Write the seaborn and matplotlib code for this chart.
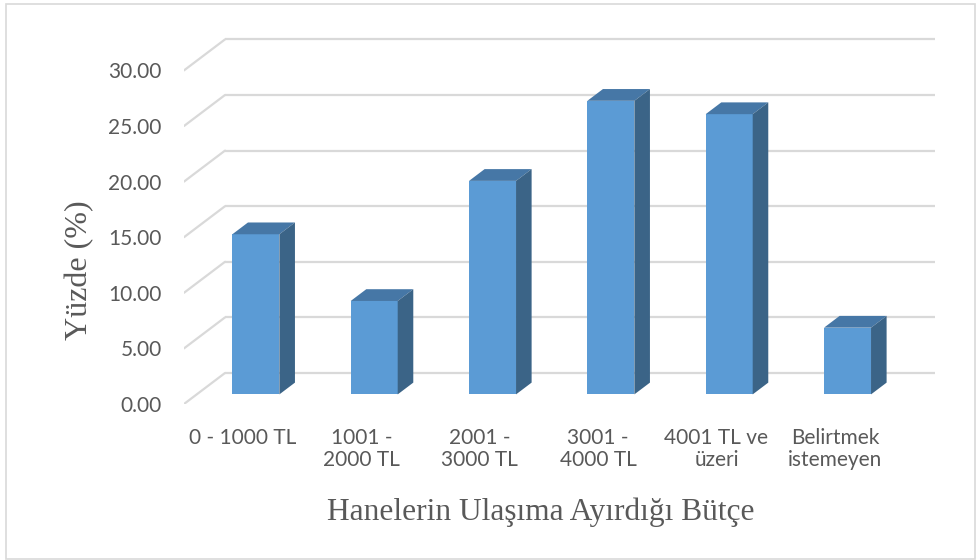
import matplotlib
matplotlib.use("Agg")
import matplotlib.pyplot as plt
from matplotlib.patches import Polygon, Rectangle
import pandas as pd
import seaborn as sns

# Data
categories = ["0 - 1000 TL", "1001 -\n2000 TL", "2001 -\n3000 TL",
              "3001 -\n4000 TL", "4001 TL ve\nüzeri", "Belirtmek\nistemeyen"]
values = [14.4, 8.4, 19.2, 26.4, 25.2, 6.0]
y_ticks = [0, 5, 10, 15, 20, 25, 30]
y_tick_labels = [f"{v:.2f}" for v in y_ticks]
x_title = "Hanelerin Ulaşıma Ayırdığı Bütçe"
y_title = "Yüzde (%)"

sns.set_theme(style="white")
plt.rcParams["font.family"] = ["Lato", "DejaVu Sans"]

W, H = 980, 560
fig = plt.figure(figsize=(W / 100, H / 100), dpi=100)

# Oblique projection (pixels): full depth of the floor, bar depth slab
DEPTH_PX = (41.0, 31.0)
BAR_FRONT, BAR_BACK = 0.31, 0.69
X_UNIT = 118.33  # px per category
Y_UNIT = 11.12   # px per percent
FRONT_LEFT_PX = 184.0
FRONT_ZERO_PX = 404.0

# Axes box in pixels; data plane = bars' front faces
ax_l, ax_r, ax_t, ax_b = FRONT_LEFT_PX, 955.0, 20.0, FRONT_ZERO_PX
ax = fig.add_axes([ax_l / W, 1 - ax_b / H, (ax_r - ax_l) / W, (ax_b - ax_t) / H])

plane_left = FRONT_LEFT_PX + BAR_FRONT * DEPTH_PX[0]
plane_zero = FRONT_ZERO_PX - BAR_FRONT * DEPTH_PX[1]
def to_x(px):
    return (px - plane_left) / X_UNIT - 0.5
def to_y(py):
    return (plane_zero - py) / Y_UNIT

ddx = DEPTH_PX[0] / X_UNIT
ddy = DEPTH_PX[1] / Y_UNIT

grid_c = "#D9D9D9"
n = len(categories)
# Back wall gridlines with their diagonal side-wall segments
for v in y_ticks:
    bx0 = -0.5 + (1 - BAR_FRONT) * ddx
    by = v + (1 - BAR_FRONT) * ddy
    ax.plot([bx0, n - 0.5 + (1 - BAR_FRONT) * ddx], [by, by],
            color=grid_c, lw=1.6, zorder=0, solid_capstyle="butt")
    fx = -0.5 - BAR_FRONT * ddx
    fy = v - BAR_FRONT * ddy
    ax.plot([fx, bx0], [fy, by], color=grid_c, lw=1.6, zorder=0)

df = pd.DataFrame({"cat": categories, "val": values})
bar_w = 47.0 / X_UNIT
sns.barplot(data=df, x="cat", y="val", color="#5B9BD5", saturation=1,
            width=bar_w, ax=ax, zorder=2, edgecolor="none")
ax.set_xlim(to_x(ax_l), to_x(ax_r))
ax.set_ylim(to_y(ax_b), to_y(ax_t))

# Top and side faces of each bar
sx = (BAR_BACK - BAR_FRONT) * ddx
sy = (BAR_BACK - BAR_FRONT) * ddy
for p in list(ax.patches):
    x0, w, h = p.get_x(), p.get_width(), p.get_height()
    top = Polygon([(x0, h), (x0 + w, h), (x0 + w + sx, h + sy), (x0 + sx, h + sy)],
                  closed=True, facecolor="#4677A6", edgecolor="none", zorder=2)
    side = Polygon([(x0 + w, 0), (x0 + w + sx, sy), (x0 + w + sx, h + sy), (x0 + w, h)],
                   closed=True, facecolor="#3B6487", edgecolor="none", zorder=2)
    ax.add_patch(top)
    ax.add_patch(side)

for s in ax.spines.values():
    s.set_visible(False)
ax.grid(False)
ax.set_xlabel("")
ax.set_ylabel("")

text_c = "#595959"
ax.set_yticks([v - BAR_FRONT * ddy for v in y_ticks], y_tick_labels)
ax.set_xticks([i - BAR_FRONT * ddx for i in range(n)], categories)
ax.tick_params(axis="y", length=0, pad=16, labelsize=15, labelcolor=text_c)
ax.tick_params(axis="x", length=0, pad=17, labelsize=15, labelcolor=text_c)
for t in ax.get_xticklabels():
    t.set_linespacing(1.15)
    t.set_horizontalalignment("center")

serif = ["Liberation Serif", "DejaVu Serif"]
fig.text(541 / W, 1 - 520 / H, x_title, ha="center", va="baseline",
         fontsize=22.6, color=text_c, family=serif)
fig.text(80 / W, 1 - 270 / H, y_title, ha="center", va="center",
         rotation=90, fontsize=23, color=text_c, family=serif)

fig.add_artist(Rectangle((6 / W, 1 - 559 / H), 969 / W, 555 / H,
                         transform=fig.transFigure, fill=False,
                         edgecolor="#D9D9D9", lw=1.2))

fig.savefig("out.png", dpi=100, facecolor="white")
